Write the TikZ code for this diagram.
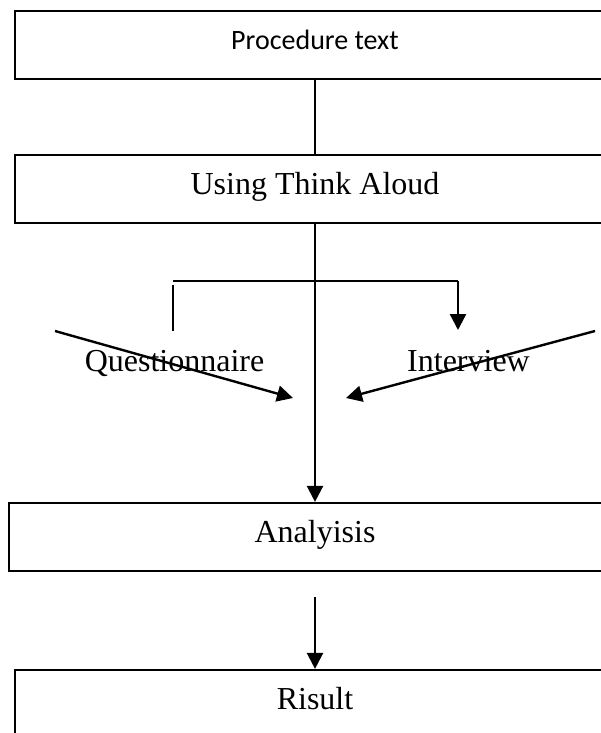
\documentclass[tikz,border=0pt]{standalone}
\usepackage{fontspec}
\setmainfont{Liberation Serif}
\newfontfamily\calfont{Carlito}
\usetikzlibrary{arrows.meta}
\tikzset{
  stagebox/.style={draw=black, line width=2.2pt, rectangle, minimum width=600pt, minimum height=68pt,
    inner sep=0pt, text height=22pt, text depth=11pt, font=\fontsize{32}{38}\selectfont},
  firstbox/.style={stagebox, text height=20pt, text depth=10.6pt, font=\calfont\fontsize{28}{34}\selectfont},
  lbl/.style={anchor=base, inner sep=0pt, font=\fontsize{32}{38}\selectfont},
  conn/.style={line width=2.4pt},
  arr/.style={conn, -{Triangle[length=16pt, width=16pt]}}
}
\begin{document}
\begin{tikzpicture}[x=1pt, y=-1pt]
\useasboundingbox (0,0) rectangle (601,733);
\clip (0,0) rectangle (601,733);
\fill[white] (0,0) rectangle (601,733);
% boxes
\node[firstbox] (proc) at (315,45.3) {Procedure text};
\node[stagebox] (think) at (315,189) {Using Think Aloud};
\node[stagebox, minimum width=612pt] (ana) at (315,537) {Analyisis};
\node[stagebox] (res) at (315,704) {Risult};
% labels
\node[lbl] (quest) at (174.5,371.5) {Questionnaire};
\node[lbl] (inter) at (468.5,371) {Interview};
% coordinates
\coordinate (brL) at (173,281);
\coordinate (brR) at (458,281);
\coordinate (qTop) at (173,285);
\coordinate (qBot) at (173,331);
\coordinate (iTip) at (458,330);
\coordinate (dLs) at (55,331);
\coordinate (dLe) at (293,398);
\coordinate (dRs) at (595,331);
\coordinate (dRe) at (346,398);
\coordinate (aStart) at (315,597);
% connectors
\draw[conn] (proc) -- (think);
\draw[arr] (think) -- (ana);
\draw[conn] (brL) -- (brR);
\draw[conn] (qTop) -- (qBot);
\draw[arr] (brR) -- (iTip);
\draw[arr] (dLs) -- (dLe);
\draw[arr] (dRs) -- (dRe);
\draw[arr] (aStart) -- (res);
\end{tikzpicture}
\end{document}
